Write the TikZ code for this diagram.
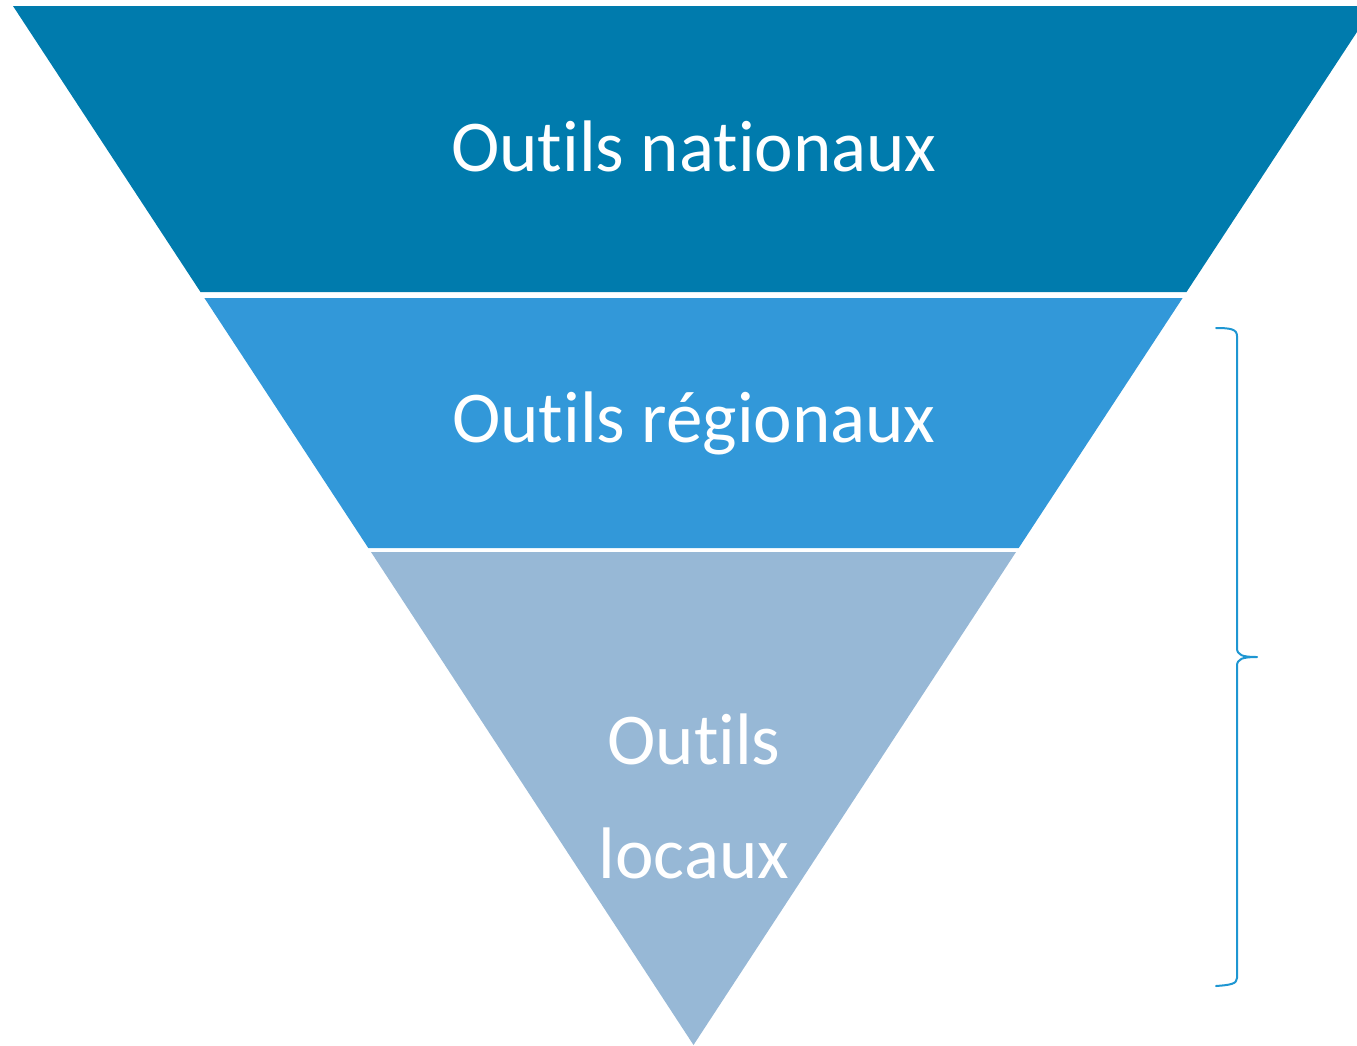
\documentclass[tikz,border=0pt]{standalone}
\usepackage{fontspec}
\setmainfont{Carlito}[Ligatures={NoCommon},RawFeature={-liga;-clig;-dlig}]
\definecolor{bandA}{RGB}{0,123,173}
\definecolor{bandB}{RGB}{50,152,217}
\definecolor{bandC}{RGB}{151,184,214}
\definecolor{bracec}{RGB}{30,150,210}
\begin{document}
\begin{tikzpicture}[x=1pt,y=-1pt,
  lbl/.style={text=white,font=\fontsize{73}{113}\selectfont,anchor=base,inner sep=0pt}]
\useasboundingbox (0,0) rectangle (1357,1045);
\begin{scope}
\clip (0,0) rectangle (1357,1045);
\fill[bandA] (13,6) -- (1374,6) -- (1186.5,292) -- (200.5,292) -- cycle;
\fill[bandB] (204.4,298) -- (1182.6,298) -- (1018.7,548) -- (368.3,548) -- cycle;
\fill[bandC] (371,552) -- (1016,552) -- (693.5,1045) -- cycle;
\end{scope}
\node[lbl] (nat) at (694,171) {Outils nationaux};
\node[lbl] (reg) at (694,442) {Outils régionaux};
\node[lbl] (loc1) at (694,764) {Outils};
\node[lbl] (loc2) at (694,878) {locaux};
\draw[bracec,line width=2pt,line cap=round,line join=round]
  (1216,328) .. controls (1230,328) and (1237,329) .. (1237,336)
  -- (1237,648) .. controls (1237,655) and (1242,657) .. (1257,657)
  .. controls (1242,657) and (1237,659) .. (1237,666)
  -- (1237,978) .. controls (1237,984) and (1230,985) .. (1216,986);
\end{tikzpicture}
\end{document}
